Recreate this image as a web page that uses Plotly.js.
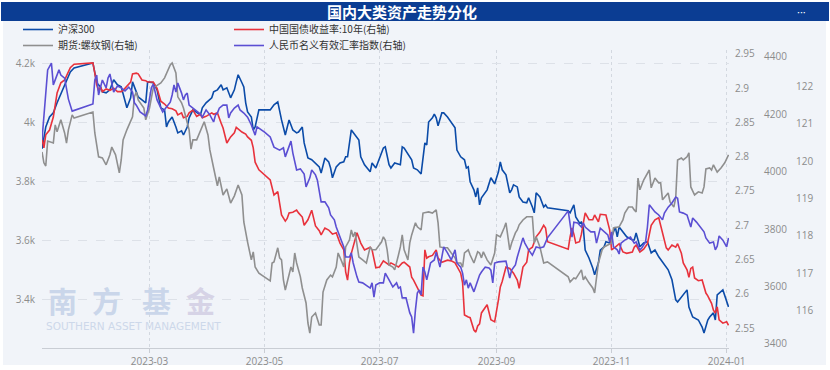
<!DOCTYPE html>
<html>
<head>
<meta charset="utf-8">
<script src="https://cdn.plot.ly/plotly-3.0.1.min.js"></script>
<style>html,body{margin:0;padding:0;background:#fff;}#chart{width:830px;height:370px;}</style>
</head>
<body>
<div id="chart"></div>
<script>
// ---------------- DATA ----------------
const seriesNames = ["沪深300", "中国国债收益率:10年(右轴)", "期货:螺纹钢(右轴)", "人民币名义有效汇率指数(右轴)"];
const chartTitle = "国内大类资产走势分化";

const csiDates = ["2023-01-03","2023-01-05","2023-01-07","2023-01-09","2023-01-11","2023-01-14","2023-01-16","2023-01-18","2023-01-20","2023-01-30","2023-01-31","2023-02-01","2023-02-03","2023-02-04","2023-02-06","2023-02-08","2023-02-10","2023-02-12","2023-02-14","2023-02-15","2023-02-17","2023-02-19","2023-02-20","2023-02-22","2023-02-23","2023-02-25","2023-02-27","2023-02-28","2023-03-03","2023-03-05","2023-03-07","2023-03-09","2023-03-10","2023-03-11","2023-03-13","2023-03-15","2023-03-16","2023-03-18","2023-03-19","2023-03-21","2023-03-22","2023-03-24","2023-03-26","2023-03-28","2023-03-29","2023-03-31","2023-04-03","2023-04-04","2023-04-06","2023-04-08","2023-04-09","2023-04-11","2023-04-13","2023-04-15","2023-04-16","2023-04-17","2023-04-19","2023-04-20","2023-04-21","2023-04-22","2023-04-24","2023-04-25","2023-04-26","2023-04-28","2023-05-04","2023-05-06","2023-05-08","2023-05-09","2023-05-10","2023-05-12","2023-05-13","2023-05-14","2023-05-16","2023-05-18","2023-05-19","2023-05-21","2023-05-22","2023-05-24","2023-05-26","2023-05-28","2023-05-30","2023-05-31","2023-06-02","2023-06-04","2023-06-05","2023-06-06","2023-06-08","2023-06-10","2023-06-12","2023-06-13","2023-06-14","2023-06-16","2023-06-18","2023-06-20","2023-06-21","2023-06-23","2023-06-26","2023-06-27","2023-06-29","2023-07-01","2023-07-03","2023-07-04","2023-07-06","2023-07-07","2023-07-09","2023-07-12","2023-07-13","2023-07-14","2023-07-17","2023-07-18","2023-07-19","2023-07-21","2023-07-23","2023-07-25","2023-07-26","2023-07-27","2023-07-29","2023-07-30","2023-07-31","2023-08-01","2023-08-03","2023-08-04","2023-08-06","2023-08-08","2023-08-10","2023-08-11","2023-08-13","2023-08-15","2023-08-16","2023-08-17","2023-08-18","2023-08-20","2023-08-21","2023-08-22","2023-08-23","2023-08-24","2023-08-26","2023-08-27","2023-08-29","2023-08-31","2023-09-02","2023-09-03","2023-09-04","2023-09-06","2023-09-08","2023-09-09","2023-09-10","2023-09-12","2023-09-13","2023-09-15","2023-09-17","2023-09-18","2023-09-20","2023-09-21","2023-09-22","2023-09-24","2023-09-26","2023-09-27","2023-09-28","2023-10-09","2023-10-10","2023-10-12","2023-10-13","2023-10-15","2023-10-16","2023-10-17","2023-10-18","2023-10-20","2023-10-22","2023-10-23","2023-10-25","2023-10-26","2023-10-28","2023-10-29","2023-10-31","2023-11-01","2023-11-02","2023-11-03","2023-11-04","2023-11-05","2023-11-07","2023-11-09","2023-11-12","2023-11-13","2023-11-14","2023-11-16","2023-11-18","2023-11-20","2023-11-22","2023-11-24","2023-11-26","2023-11-28","2023-12-01","2023-12-03","2023-12-05","2023-12-06","2023-12-08","2023-12-11","2023-12-12","2023-12-14","2023-12-17","2023-12-19","2023-12-20","2023-12-22","2023-12-23","2023-12-25","2023-12-26","2023-12-27","2023-12-30","2024-01-01","2024-01-02"];
const csiValues = [3912,3986,4020,4034,4068,4112,4146,4173,4186,4203,4170,4136,4122,4105,4102,4112,4146,4129,4122,4095,4051,4085,4139,4105,4088,4078,4068,4139,4136,4112,4051,4044,3986,4003,4020,3986,3966,3973,3959,3986,4017,4044,4034,4027,4051,4068,4085,4105,4112,4129,4112,4119,4085,4112,4139,4163,4136,4122,4068,4037,4020,3976,3986,4044,4044,4061,4071,4034,4010,3959,3986,4010,3976,3966,3969,3986,3932,3881,3875,3864,3851,3830,3881,3868,3847,3814,3851,3864,3868,3885,3885,3976,3959,3942,3885,3858,3834,3864,3847,3885,3915,3919,3858,3847,3864,3858,3919,3915,3885,3875,3847,3841,3827,3932,3925,4003,4017,4030,4017,3990,4034,4034,4020,4000,3983,3908,3885,3875,3847,3851,3800,3773,3749,3780,3722,3746,3763,3773,3814,3793,3834,3868,3841,3824,3763,3773,3790,3783,3749,3732,3729,3746,3715,3695,3763,3749,3715,3722,3712,3702,3695,3722,3681,3661,3664,3644,3569,3542,3508,3485,3525,3569,3580,3597,3593,3614,3630,3647,3614,3647,3630,3614,3603,3603,3627,3580,3593,3597,3559,3569,3546,3529,3502,3468,3400,3393,3410,3434,3376,3342,3332,3308,3288,3332,3342,3356,3332,3417,3434,3393,3376];

const bondDates = ["2023-01-03","2023-01-04","2023-01-05","2023-01-07","2023-01-09","2023-01-11","2023-01-13","2023-01-15","2023-01-16","2023-01-18","2023-01-20","2023-01-30","2023-01-31","2023-02-01","2023-02-02","2023-02-03","2023-02-04","2023-02-06","2023-02-08","2023-02-10","2023-02-12","2023-02-14","2023-02-15","2023-02-17","2023-02-19","2023-02-20","2023-02-22","2023-02-23","2023-02-25","2023-02-27","2023-02-28","2023-03-03","2023-03-05","2023-03-07","2023-03-09","2023-03-11","2023-03-13","2023-03-15","2023-03-16","2023-03-18","2023-03-19","2023-03-21","2023-03-22","2023-03-24","2023-03-26","2023-03-28","2023-03-29","2023-03-31","2023-04-03","2023-04-04","2023-04-06","2023-04-08","2023-04-09","2023-04-11","2023-04-13","2023-04-15","2023-04-16","2023-04-19","2023-04-21","2023-04-22","2023-04-24","2023-04-25","2023-04-26","2023-04-28","2023-05-04","2023-05-06","2023-05-08","2023-05-09","2023-05-10","2023-05-12","2023-05-13","2023-05-14","2023-05-16","2023-05-18","2023-05-19","2023-05-21","2023-05-22","2023-05-24","2023-05-26","2023-05-28","2023-05-30","2023-05-31","2023-06-02","2023-06-04","2023-06-06","2023-06-08","2023-06-10","2023-06-12","2023-06-13","2023-06-14","2023-06-15","2023-06-16","2023-06-18","2023-06-19","2023-06-21","2023-06-23","2023-06-26","2023-06-27","2023-06-29","2023-07-01","2023-07-03","2023-07-06","2023-07-07","2023-07-09","2023-07-11","2023-07-13","2023-07-14","2023-07-17","2023-07-18","2023-07-19","2023-07-21","2023-07-23","2023-07-24","2023-07-25","2023-07-26","2023-07-27","2023-07-29","2023-07-31","2023-08-01","2023-08-03","2023-08-06","2023-08-08","2023-08-10","2023-08-13","2023-08-14","2023-08-15","2023-08-17","2023-08-18","2023-08-20","2023-08-21","2023-08-22","2023-08-23","2023-08-24","2023-08-26","2023-08-27","2023-08-29","2023-08-31","2023-09-02","2023-09-03","2023-09-04","2023-09-06","2023-09-08","2023-09-10","2023-09-12","2023-09-13","2023-09-15","2023-09-17","2023-09-18","2023-09-20","2023-09-22","2023-09-24","2023-09-26","2023-09-27","2023-09-28","2023-10-09","2023-10-10","2023-10-11","2023-10-12","2023-10-13","2023-10-15","2023-10-16","2023-10-17","2023-10-18","2023-10-20","2023-10-22","2023-10-23","2023-10-25","2023-10-26","2023-10-28","2023-10-29","2023-10-31","2023-11-01","2023-11-03","2023-11-05","2023-11-07","2023-11-09","2023-11-12","2023-11-13","2023-11-14","2023-11-16","2023-11-18","2023-11-20","2023-11-22","2023-11-24","2023-11-26","2023-11-27","2023-11-28","2023-11-30","2023-12-01","2023-12-03","2023-12-05","2023-12-06","2023-12-08","2023-12-09","2023-12-11","2023-12-12","2023-12-13","2023-12-14","2023-12-15","2023-12-17","2023-12-19","2023-12-20","2023-12-21","2023-12-22","2023-12-24","2023-12-25","2023-12-26","2023-12-27","2023-12-28","2023-12-30","2024-01-01","2024-01-02"];
const bondValues = [2.827,2.813,2.832,2.839,2.858,2.893,2.908,2.912,2.918,2.930,2.935,2.937,2.922,2.905,2.896,2.902,2.895,2.899,2.897,2.900,2.895,2.895,2.897,2.903,2.909,2.921,2.922,2.921,2.912,2.911,2.909,2.909,2.900,2.881,2.877,2.871,2.870,2.867,2.861,2.864,2.857,2.859,2.864,2.868,2.859,2.862,2.857,2.859,2.864,2.862,2.864,2.849,2.842,2.820,2.829,2.835,2.843,2.836,2.833,2.829,2.824,2.813,2.792,2.781,2.766,2.744,2.749,2.732,2.715,2.706,2.710,2.718,2.719,2.722,2.718,2.712,2.700,2.708,2.722,2.699,2.692,2.686,2.696,2.693,2.687,2.689,2.674,2.664,2.632,2.620,2.645,2.659,2.681,2.689,2.674,2.664,2.668,2.664,2.638,2.639,2.648,2.642,2.645,2.642,2.639,2.645,2.646,2.639,2.624,2.620,2.608,2.598,2.597,2.664,2.652,2.654,2.656,2.664,2.652,2.646,2.649,2.648,2.645,2.630,2.616,2.569,2.566,2.565,2.547,2.544,2.553,2.556,2.572,2.579,2.584,2.562,2.559,2.591,2.610,2.618,2.639,2.637,2.630,2.620,2.608,2.639,2.646,2.664,2.668,2.683,2.690,2.700,2.696,2.676,2.665,2.683,2.696,2.687,2.674,2.676,2.687,2.703,2.718,2.708,2.708,2.715,2.705,2.716,2.715,2.715,2.693,2.664,2.668,2.673,2.661,2.659,2.661,2.668,2.671,2.661,2.665,2.673,2.700,2.708,2.711,2.700,2.686,2.667,2.664,2.671,2.668,2.673,2.659,2.645,2.635,2.624,2.637,2.639,2.623,2.619,2.620,2.611,2.601,2.597,2.586,2.576,2.572,2.581,2.562,2.557,2.559,2.554];

const rebarDates = ["2023-01-03","2023-01-04","2023-01-05","2023-01-06","2023-01-09","2023-01-10","2023-01-11","2023-01-13","2023-01-15","2023-01-16","2023-01-17","2023-01-19","2023-01-20","2023-01-30","2023-01-31","2023-02-01","2023-02-02","2023-02-04","2023-02-06","2023-02-08","2023-02-09","2023-02-11","2023-02-13","2023-02-14","2023-02-15","2023-02-17","2023-02-19","2023-02-20","2023-02-21","2023-02-22","2023-02-23","2023-02-25","2023-02-26","2023-02-27","2023-03-01","2023-03-03","2023-03-05","2023-03-07","2023-03-09","2023-03-10","2023-03-11","2023-03-12","2023-03-13","2023-03-15","2023-03-16","2023-03-18","2023-03-19","2023-03-21","2023-03-22","2023-03-23","2023-03-24","2023-03-26","2023-03-28","2023-03-30","2023-04-01","2023-04-02","2023-04-04","2023-04-06","2023-04-07","2023-04-09","2023-04-11","2023-04-13","2023-04-15","2023-04-17","2023-04-19","2023-04-20","2023-04-22","2023-04-24","2023-04-25","2023-04-26","2023-04-28","2023-05-04","2023-05-05","2023-05-06","2023-05-08","2023-05-09","2023-05-10","2023-05-11","2023-05-12","2023-05-13","2023-05-15","2023-05-16","2023-05-17","2023-05-18","2023-05-20","2023-05-21","2023-05-22","2023-05-23","2023-05-24","2023-05-25","2023-05-26","2023-05-28","2023-05-30","2023-05-31","2023-06-01","2023-06-03","2023-06-05","2023-06-06","2023-06-08","2023-06-09","2023-06-11","2023-06-12","2023-06-13","2023-06-15","2023-06-16","2023-06-17","2023-06-18","2023-06-19","2023-06-20","2023-06-22","2023-06-24","2023-06-26","2023-06-27","2023-06-29","2023-07-02","2023-07-03","2023-07-04","2023-07-05","2023-07-06","2023-07-08","2023-07-09","2023-07-11","2023-07-12","2023-07-13","2023-07-14","2023-07-16","2023-07-17","2023-07-18","2023-07-20","2023-07-21","2023-07-23","2023-07-24","2023-07-26","2023-07-27","2023-07-29","2023-07-31","2023-08-01","2023-08-02","2023-08-04","2023-08-06","2023-08-08","2023-08-10","2023-08-11","2023-08-13","2023-08-14","2023-08-15","2023-08-17","2023-08-18","2023-08-20","2023-08-22","2023-08-23","2023-08-24","2023-08-25","2023-08-27","2023-08-29","2023-08-31","2023-09-01","2023-09-03","2023-09-05","2023-09-06","2023-09-08","2023-09-09","2023-09-11","2023-09-12","2023-09-13","2023-09-15","2023-09-17","2023-09-19","2023-09-20","2023-09-21","2023-09-22","2023-09-24","2023-09-26","2023-09-28","2023-10-09","2023-10-10","2023-10-12","2023-10-13","2023-10-15","2023-10-16","2023-10-17","2023-10-18","2023-10-20","2023-10-22","2023-10-23","2023-10-24","2023-10-25","2023-10-27","2023-10-28","2023-10-30","2023-11-01","2023-11-02","2023-11-04","2023-11-05","2023-11-07","2023-11-08","2023-11-10","2023-11-12","2023-11-13","2023-11-14","2023-11-15","2023-11-16","2023-11-18","2023-11-20","2023-11-21","2023-11-22","2023-11-24","2023-11-26","2023-11-27","2023-11-28","2023-12-01","2023-12-02","2023-12-04","2023-12-05","2023-12-06","2023-12-08","2023-12-09","2023-12-11","2023-12-12","2023-12-13","2023-12-15","2023-12-17","2023-12-19","2023-12-20","2023-12-21","2023-12-23","2023-12-24","2023-12-25","2023-12-27","2023-12-29","2023-12-31","2024-01-02"];
const rebarValues = [4069,4031,4020,4107,4100,4163,4139,4181,4135,4100,4146,4198,4187,4208,4135,4086,4052,4048,4024,4059,4086,4059,3996,4041,4111,4146,4181,4191,4261,4278,4250,4233,4222,4181,4222,4292,4302,4309,4327,4344,4362,4372,4379,4344,4261,4240,4222,4170,4146,4079,4111,4111,4146,4174,4128,4076,4013,3951,3982,3919,3940,3891,3916,3954,3919,3825,3755,3693,3721,3668,3647,3620,3682,3686,3735,3700,3693,3623,3588,3616,3668,3651,3717,3682,3634,3595,3571,3543,3473,3438,3494,3508,3466,3466,3581,3623,3640,3634,3668,3717,3686,3668,3738,3762,3797,3773,3790,3752,3703,3693,3682,3738,3728,3728,3755,3773,3762,3728,3675,3668,3658,3710,3738,3780,3728,3693,3752,3780,3822,3808,3797,3856,3860,3860,3856,3867,3822,3738,3735,3735,3717,3700,3682,3682,3668,3717,3728,3710,3682,3721,3717,3700,3721,3693,3675,3717,3780,3773,3804,3822,3728,3752,3787,3797,3815,3832,3843,3843,3843,3752,3773,3738,3682,3686,3634,3616,3630,3627,3651,3658,3623,3634,3613,3595,3578,3634,3682,3728,3738,3745,3752,3804,3808,3808,3832,3856,3877,3877,3867,3860,3978,3937,3971,3996,4006,3944,3978,3961,3961,3902,3926,3895,3877,3909,4041,4048,4041,4052,4066,3947,3919,3930,3926,3947,4010,4013,4006,4024,3999,4013,4031,4059];

const rmbDates = ["2023-01-03","2023-01-04","2023-01-05","2023-01-06","2023-01-08","2023-01-09","2023-01-12","2023-01-13","2023-01-15","2023-01-16","2023-01-17","2023-01-19","2023-01-30","2023-01-31","2023-02-01","2023-02-02","2023-02-04","2023-02-06","2023-02-07","2023-02-08","2023-02-10","2023-02-12","2023-02-14","2023-02-16","2023-02-18","2023-02-20","2023-02-21","2023-02-22","2023-02-24","2023-02-27","2023-02-28","2023-03-02","2023-03-03","2023-03-05","2023-03-07","2023-03-08","2023-03-10","2023-03-12","2023-03-13","2023-03-14","2023-03-15","2023-03-16","2023-03-18","2023-03-19","2023-03-20","2023-03-21","2023-03-22","2023-03-24","2023-03-26","2023-03-28","2023-03-29","2023-03-31","2023-04-02","2023-04-04","2023-04-05","2023-04-06","2023-04-07","2023-04-09","2023-04-11","2023-04-12","2023-04-13","2023-04-15","2023-04-17","2023-04-18","2023-04-20","2023-04-22","2023-04-24","2023-04-25","2023-04-26","2023-04-27","2023-05-01","2023-05-04","2023-05-06","2023-05-09","2023-05-11","2023-05-12","2023-05-14","2023-05-15","2023-05-16","2023-05-17","2023-05-18","2023-05-20","2023-05-21","2023-05-22","2023-05-23","2023-05-25","2023-05-26","2023-05-28","2023-05-29","2023-05-30","2023-05-31","2023-06-02","2023-06-04","2023-06-05","2023-06-07","2023-06-08","2023-06-10","2023-06-12","2023-06-13","2023-06-15","2023-06-16","2023-06-17","2023-06-19","2023-06-20","2023-06-22","2023-06-24","2023-06-26","2023-06-27","2023-06-28","2023-06-29","2023-07-01","2023-07-03","2023-07-04","2023-07-06","2023-07-07","2023-07-08","2023-07-10","2023-07-11","2023-07-12","2023-07-13","2023-07-15","2023-07-16","2023-07-17","2023-07-18","2023-07-19","2023-07-20","2023-07-21","2023-07-22","2023-07-23","2023-07-24","2023-07-25","2023-07-26","2023-07-28","2023-07-30","2023-07-31","2023-08-02","2023-08-04","2023-08-06","2023-08-08","2023-08-10","2023-08-11","2023-08-13","2023-08-14","2023-08-15","2023-08-16","2023-08-17","2023-08-18","2023-08-20","2023-08-22","2023-08-23","2023-08-24","2023-08-26","2023-08-28","2023-08-29","2023-08-30","2023-08-31","2023-09-02","2023-09-04","2023-09-06","2023-09-08","2023-09-09","2023-09-11","2023-09-12","2023-09-15","2023-09-16","2023-09-18","2023-09-20","2023-09-22","2023-09-24","2023-09-26","2023-09-28","2023-10-09","2023-10-10","2023-10-11","2023-10-12","2023-10-14","2023-10-16","2023-10-17","2023-10-18","2023-10-21","2023-10-23","2023-10-24","2023-10-26","2023-10-28","2023-10-30","2023-10-31","2023-11-01","2023-11-02","2023-11-04","2023-11-05","2023-11-06","2023-11-08","2023-11-10","2023-11-11","2023-11-13","2023-11-14","2023-11-16","2023-11-17","2023-11-19","2023-11-20","2023-11-21","2023-11-22","2023-11-24","2023-11-26","2023-11-28","2023-11-29","2023-12-01","2023-12-03","2023-12-05","2023-12-06","2023-12-07","2023-12-09","2023-12-11","2023-12-13","2023-12-14","2023-12-16","2023-12-18","2023-12-20","2023-12-21","2023-12-23","2023-12-25","2023-12-26","2023-12-27","2023-12-28","2023-12-30","2024-01-01","2024-01-02"];
const rmbValues = [120.56,121.15,121.63,122.43,122.61,122.03,122.43,122.29,122.21,121.97,121.65,121.33,121.52,122.16,122.29,121.76,122.16,121.95,122.21,122.32,121.84,122.00,121.95,121.87,121.97,121.84,121.55,121.49,121.31,121.20,121.36,121.95,122.05,121.63,121.41,121.31,121.44,121.57,121.76,122.03,121.84,122.08,121.81,121.63,121.76,121.81,121.49,121.41,121.31,121.25,121.17,121.36,121.23,121.04,121.23,121.28,121.41,121.49,121.49,121.15,121.28,121.41,121.49,121.36,121.28,121.17,120.96,120.83,120.69,120.91,120.77,120.64,120.37,120.29,120.35,120.11,120.37,120.53,120.21,119.97,119.76,119.79,119.71,119.65,119.31,119.55,119.76,119.63,119.49,119.23,118.91,118.91,118.75,118.56,118.43,118.24,117.97,117.71,117.44,117.44,117.55,117.28,116.91,116.77,116.75,116.69,116.61,116.75,116.37,116.69,116.75,116.75,117.01,116.83,116.75,116.64,116.75,116.61,116.64,116.35,116.35,116.16,115.95,115.84,115.41,116.03,116.48,116.56,116.43,117.17,117.04,116.83,117.28,117.36,117.57,117.17,117.71,117.55,117.36,117.63,117.28,117.17,117.01,116.69,116.83,116.61,116.75,116.51,116.83,116.96,117.04,117.17,117.15,117.09,116.75,117.28,117.31,117.31,117.33,116.88,117.09,117.23,117.44,117.95,117.81,117.63,117.49,117.71,117.68,117.71,117.95,118.67,118.32,117.97,118.37,118.35,118.24,118.35,118.24,118.11,118.11,117.81,118.21,118.11,118.03,117.84,118.11,117.71,117.63,117.52,117.81,117.89,117.95,117.97,117.81,117.84,117.63,117.68,117.84,118.24,118.83,118.77,118.64,118.56,118.43,118.61,118.77,118.88,119.04,119.01,118.64,118.61,118.56,118.24,118.48,118.37,118.24,118.11,117.95,117.81,117.84,117.63,117.73,118.00,117.89,117.71,117.95];

const xTickStart = "2023-01-01";
const csiTicks = [3400, 3600, 3800, 4000, 4200];
const csiTickText = ["3.4k", "3.6k", "3.8k", "4k", "4.2k"];
const bondTicks = [2.55, 2.6, 2.65, 2.7, 2.75, 2.8, 2.85, 2.9, 2.95];
const bondTickText = ["2.55", "2.6", "2.65", "2.7", "2.75", "2.8", "2.85", "2.9", "2.95"];
const rebarTicks = [3400, 3600, 3800, 4000, 4200, 4400];
const rmbTicks = [116, 117, 118, 119, 120, 121, 122];
const watermarkChars = ["南", "方", "基", "金"];
const watermarkSub = "SOUTHERN ASSET MANAGEMENT";

// ---------------- LAYOUT HELPERS ----------------
const W = 830, H = 370;
const px = x => x / W;          // pixel -> paper x
const py = y => 1 - y / H;      // pixel -> paper y

const tickFont = {family: "Open Sans, sans-serif", size: 10, color: "#8c8c8c"};
const legendFont = {family: "Noto Sans CJK SC, sans-serif", size: 10, color: "#333333"};

const traces = [
  {x: rebarDates, y: rebarValues, name: seriesNames[2], yaxis: "y3", type: "scatter", mode: "lines",
   line: {color: "#8f8f8f", width: 1.6}, legend: "legend2", legendrank: 1},
  {x: rmbDates, y: rmbValues, name: seriesNames[3], yaxis: "y4", type: "scatter", mode: "lines",
   line: {color: "#5b4fd3", width: 1.6}, legend: "legend2", legendrank: 2},
  {x: bondDates, y: bondValues, name: seriesNames[1], yaxis: "y2", type: "scatter", mode: "lines",
   line: {color: "#e8323c", width: 1.6}, legend: "legend", legendrank: 2},
  {x: csiDates, y: csiValues, name: seriesNames[0], yaxis: "y", type: "scatter", mode: "lines",
   line: {color: "#0b4ba8", width: 1.6}, legend: "legend", legendrank: 1}
];

const annotations = [
  {text: "<b>" + chartTitle + "</b>", x: px(402), y: py(11), xref: "paper", yref: "paper",
   showarrow: false, xanchor: "center", yanchor: "middle",
   font: {family: "Noto Sans CJK SC, sans-serif", size: 15, color: "#ffffff"}},
  {text: "···", x: px(801), y: py(11), xref: "paper", yref: "paper", showarrow: false,
   xanchor: "center", yanchor: "middle", font: {family: "Open Sans, sans-serif", size: 11, color: "#ffffff"}},
  {text: watermarkSub, x: px(133), y: py(326), xref: "paper", yref: "paper", showarrow: false,
   xanchor: "center", yanchor: "middle", font: {family: "DejaVu Sans, sans-serif", size: 10.5, color: "#cdd8ea"}}
];
const wmX = [62, 106, 156, 200];
watermarkChars.forEach((c, i) => {
  annotations.push({text: "<b>" + c + "</b>", x: px(wmX[i]), y: py(300), xref: "paper", yref: "paper",
    showarrow: false, xanchor: "center", yanchor: "middle",
    font: {family: "Noto Sans CJK SC, sans-serif", size: 29, color: i === 3 ? "#d6d3e6" : "#cad6ea"}});
});

const layout = {
  width: W, height: H,
  margin: {l: 0, r: 0, t: 0, b: 0},
  paper_bgcolor: "#ffffff",
  plot_bgcolor: "rgba(0,0,0,0)",
  font: {family: "Open Sans, Noto Sans CJK SC, sans-serif"},
  showlegend: true,
  hovermode: false,
  shapes: [
    {type: "rect", xref: "paper", yref: "paper", x0: px(3), x1: px(826), y0: py(365), y1: py(21),
     fillcolor: "#f1f4f9", line: {width: 0}, layer: "below"},
    {type: "rect", xref: "paper", yref: "paper", x0: px(1), x1: px(829), y0: py(21), y1: py(2),
     fillcolor: "#0b3d93", line: {width: 0}, layer: "below"}
  ],
  annotations: annotations,
  legend: {orientation: "h", x: px(18), y: py(15), xanchor: "left", yanchor: "top",
           bgcolor: "rgba(0,0,0,0)", font: legendFont, entrywidth: 166, entrywidthmode: "pixels",
           itemwidth: 30, traceorder: "normal"},
  legend2: {orientation: "h", x: px(18), y: py(31), xanchor: "left", yanchor: "top",
           bgcolor: "rgba(0,0,0,0)", font: legendFont, entrywidth: 166, entrywidthmode: "pixels",
           itemwidth: 30, traceorder: "normal"},
  xaxis: {type: "date", domain: [px(42), px(729)], range: ["2023-01-03", "2024-01-02 06:00"],
          dtick: "M2", tick0: xTickStart, tickformat: "%Y-%m",
          showgrid: true, gridcolor: "#d3d8e0", griddash: "dot", gridwidth: 1,
          showline: true, linecolor: "#c9cdd4", linewidth: 1,
          ticks: "outside", ticklen: 4, tickcolor: "#c9cdd4",
          tickfont: tickFont, zeroline: false, anchor: "y"},
  yaxis: {domain: [1 - 348 / H, 1 - 50 / H], range: [3237, 4247],
          tickvals: csiTicks, ticktext: csiTickText, tickfont: tickFont,
          showgrid: true, gridcolor: "#dde1e8", griddash: "dash", zeroline: false,
          showline: false, ticks: "", ticklabelstandoff: 6},
  yaxis2: {overlaying: "y", side: "right", anchor: "x", range: [2.5208, 2.9558],
           tickvals: bondTicks, ticktext: bondTickText, tickfont: tickFont,
           showgrid: false, zeroline: false, showline: false, ticks: "", ticklabelstandoff: 5},
  yaxis3: {overlaying: "y", side: "right", anchor: "free", position: px(763), range: [3386, 4424],
           tickvals: rebarTicks, tickfont: tickFont,
           showgrid: false, zeroline: false, showline: false, ticks: ""},
  yaxis4: {overlaying: "y", side: "right", anchor: "free", position: px(795), range: [115.013, 122.96],
           tickvals: rmbTicks, tickfont: tickFont,
           showgrid: false, zeroline: false, showline: false, ticks: ""}
};

Plotly.newPlot("chart", traces, layout, {staticPlot: true, displayModeBar: false});
</script>
</body>
</html>
